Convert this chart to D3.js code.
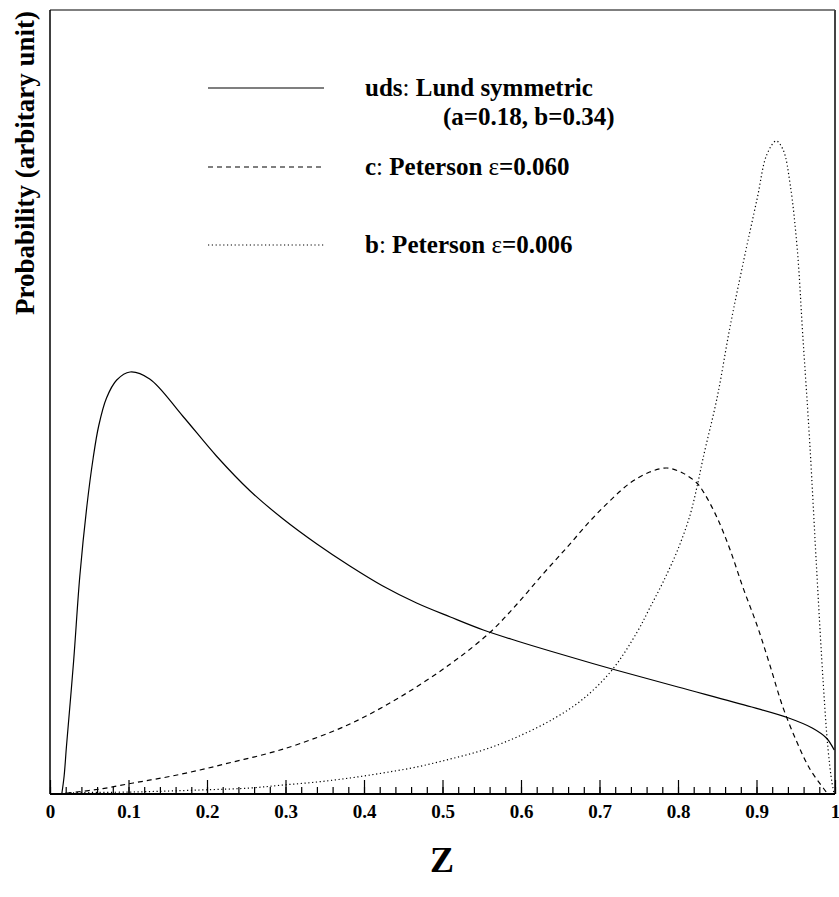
<!DOCTYPE html>
<html><head><meta charset="utf-8">
<script src="https://cdn.jsdelivr.net/npm/d3@7"></script>
<style>body{margin:0;background:#fff}svg{display:block}</style>
</head><body>
<script>
// ---- data ----
const udsZ = [0.015,0.018,0.021,0.030,0.038,0.047,0.055,0.062,0.072,0.085,0.102,0.127,0.169,0.212,0.255,0.297,0.340,0.382,0.424,0.467,0.510,0.552,0.595,0.637,0.716,0.800,0.894,0.941,0.971,0.989,0.999];
const udsV = [0.00,0.18,0.48,1.32,2.18,2.88,3.36,3.68,3.96,4.14,4.22,4.15,3.78,3.38,3.03,2.75,2.50,2.28,2.08,1.91,1.77,1.64,1.53,1.43,1.25,1.07,0.87,0.76,0.66,0.56,0.44];

const cZ = [0.010,0.022,0.064,0.106,0.149,0.191,0.233,0.275,0.317,0.382,0.446,0.510,0.561,0.595,0.628,0.659,0.688,0.713,0.739,0.764,0.786,0.806,0.824,0.834,0.850,0.866,0.883,0.901,0.917,0.934,0.952,0.968,0.985,0.991];
const cV = [0.00,0.01,0.05,0.11,0.17,0.24,0.32,0.40,0.50,0.70,0.97,1.30,1.62,1.90,2.20,2.47,2.73,2.93,3.11,3.22,3.26,3.21,3.11,3.00,2.76,2.45,2.06,1.68,1.29,0.86,0.51,0.25,0.06,0.00];

const bZ = [0.010,0.022,0.106,0.191,0.255,0.297,0.340,0.382,0.424,0.467,0.510,0.552,0.595,0.641,0.679,0.716,0.748,0.764,0.781,0.799,0.815,0.825,0.832,0.850,0.866,0.883,0.901,0.913,0.925,0.934,0.943,0.952,0.959,0.968,0.977,0.985,0.991,0.996,0.999];
const bV = [0.00,0.01,0.02,0.04,0.06,0.09,0.12,0.16,0.21,0.27,0.35,0.44,0.57,0.75,0.95,1.24,1.62,1.86,2.12,2.43,2.78,3.10,3.36,3.97,4.66,5.31,5.96,6.39,6.53,6.44,6.09,5.44,4.58,3.49,2.19,1.11,0.46,0.12,0.00];

const majorTicks = [0,0.1,0.2,0.3,0.4,0.5,0.6,0.7,0.8,0.9,1];
const tickLabels = ["0","0.1","0.2","0.3","0.4","0.5","0.6","0.7","0.8","0.9","1"];
const minorTicks = d3.range(0, 51).map(i => i / 50);

const W = 839, H = 897;
const FONT = "'Liberation Serif','Times New Roman',serif";
const svg = d3.select("body").append("svg").attr("width", W).attr("height", H)
  .style("font-family", FONT);

const x = d3.scaleLinear().domain([0, 1]).range([50, 835]);
const y = d3.scaleLinear().domain([0, 7.84]).range([794, 10]);

// frame
svg.append("line").attr("x1", 50).attr("x2", 835).attr("y1", 10).attr("y2", 10).attr("stroke", "#555").attr("stroke-width", 1.5);
svg.append("line").attr("x1", 835).attr("x2", 835).attr("y1", 10).attr("y2", 794).attr("stroke", "#444").attr("stroke-width", 2);
svg.append("line").attr("x1", 50).attr("x2", 50).attr("y1", 10).attr("y2", 794).attr("stroke", "#000").attr("stroke-width", 1.5);

// minor ticks
svg.append("g").attr("transform", "translate(0,794)")
  .call(d3.axisBottom(x).tickValues(minorTicks).tickSize(-7).tickFormat(""))
  .call(g => g.select(".domain").remove())
  .call(g => g.selectAll("line").attr("stroke", "#000").attr("stroke-width", 1.2));

// major ticks + labels
svg.append("g").attr("transform", "translate(0,794)")
  .call(d3.axisBottom(x).tickValues(majorTicks).tickSize(-14).tickPadding(11)
    .tickFormat((d, i) => tickLabels[i]))
  .call(g => g.select(".domain").remove())
  .call(g => g.selectAll("line").attr("stroke", "#000").attr("stroke-width", 1.2))
  .call(g => g.selectAll("text").attr("font-family", FONT)
    .attr("font-size", 19).attr("font-weight", "bold").attr("fill", "#000"));

// bottom axis line
svg.append("line").attr("x1", 50).attr("x2", 835).attr("y1", 794).attr("y2", 794).attr("stroke", "#000").attr("stroke-width", 2);

// curves
const line = d3.line().x(d => x(d[0])).y(d => y(d[1])).curve(d3.curveCatmullRom.alpha(0.5));
const series = [
  {z: udsZ, v: udsV, dash: null},
  {z: cZ, v: cV, dash: "5,4"},
  {z: bZ, v: bV, dash: "1.2,2.6"}
];
series.forEach(s => {
  svg.append("path").datum(s.z.map((z, i) => [z, s.v[i]]))
    .attr("d", line).attr("fill", "none").attr("stroke", "#000").attr("stroke-width", 1.2)
    .attr("stroke-dasharray", s.dash);
});

// legend
const legend = [
  {y: 88, dash: null, ty: 96, parts: [["uds", "bold"], [": ", "normal"], ["Lund symmetric", "bold"]]},
  {y: 167, dash: "5,4", ty: 175, parts: [["c", "bold"], [": ", "normal"], ["Peterson ", "bold"], ["\u03b5", "normal"], ["=0.060", "bold"]]},
  {y: 245, dash: "1.2,2.6", ty: 253, parts: [["b", "bold"], [": ", "normal"], ["Peterson ", "bold"], ["\u03b5", "normal"], ["=0.006", "bold"]]}
];
legend.forEach(l => {
  svg.append("line").attr("x1", 208).attr("x2", 324).attr("y1", l.y).attr("y2", l.y)
    .attr("stroke", "#000").attr("stroke-width", 1.2).attr("stroke-dasharray", l.dash);
  const t = svg.append("text").attr("x", 365).attr("y", l.ty).attr("font-size", 25);
  l.parts.forEach(p => t.append("tspan").attr("font-weight", p[1]).text(p[0]));
});
svg.append("text").attr("x", 443).attr("y", 125).attr("font-size", 25).attr("font-weight", "bold").text("(a=0.18, b=0.34)");

// axis titles
svg.append("text").attr("transform", "translate(34,163) rotate(-90)").attr("text-anchor", "middle")
  .attr("font-size", 27).attr("font-weight", "bold").text("Probability (arbitary unit)");
svg.append("text").attr("x", 442).attr("y", 872).attr("text-anchor", "middle")
  .attr("font-size", 36).attr("font-weight", "bold").text("Z");
</script>
</body></html>
